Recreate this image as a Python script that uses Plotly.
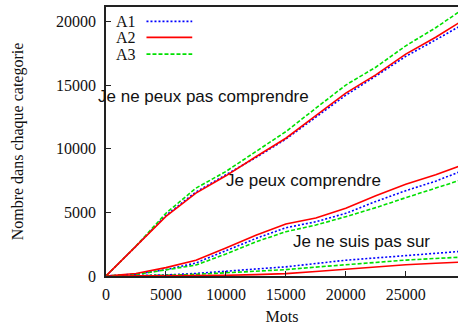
import plotly.graph_objects as go

# Word counts (x) at which the cumulative counts were read
mots = [0, 2500, 5000, 7500, 10000, 12500, 15000, 17500, 20000, 22500, 25000, 27500, 29400]

# "Je ne peux pas comprendre"
npc_A1 = [0, 2330, 4760, 6600, 7950, 9300, 10750, 12450, 14200, 15700, 17250, 18550, 19560]
npc_A2 = [0, 2320, 4680, 6510, 7870, 9370, 10820, 12590, 14360, 15800, 17430, 18750, 19870]
npc_A3 = [0, 2350, 4930, 6900, 8210, 9760, 11340, 13180, 15000, 16400, 18080, 19500, 20720]

# "Je peux comprendre"
pc_A1 = [0, 150, 500, 1020, 1990, 2950, 3790, 4260, 4920, 5850, 6700, 7450, 8150]
pc_A2 = [0, 200, 660, 1240, 2200, 3200, 4080, 4550, 5320, 6300, 7200, 7950, 8600]
pc_A3 = [0, 130, 480, 860, 1730, 2680, 3480, 4000, 4660, 5370, 6150, 6900, 7480]

# "Je ne suis pas sur"
ns_A1 = [0, 30, 80, 200, 395, 550, 720, 1000, 1240, 1420, 1620, 1800, 1920]
ns_A2 = [0, 10, 20, 30, 55, 110, 190, 350, 530, 720, 880, 1000, 1080]
ns_A3 = [0, 20, 60, 130, 240, 380, 500, 700, 900, 1080, 1250, 1380, 1470]

series_names = ["A1", "A2", "A3"]
x_ticks = [0, 5000, 10000, 15000, 20000, 25000]
y_ticks = [0, 5000, 10000, 15000, 20000]
labels = ["Je ne peux pas comprendre", "Je peux comprendre", "Je ne suis pas sur"]
label_x = [8150, 16440, 21300]
label_y = [14090, 7520, 2700]

styles = {
    "A1": dict(color="#0000ff", width=1.6, dash="2px,2px"),
    "A2": dict(color="#ff0000", width=1.6, dash="solid"),
    "A3": dict(color="#00e000", width=1.6, dash="4px,2px"),
}

fig = go.Figure()
groups = [
    {"A1": npc_A1, "A2": npc_A2, "A3": npc_A3},
    {"A1": pc_A1, "A2": pc_A2, "A3": pc_A3},
    {"A1": ns_A1, "A2": ns_A2, "A3": ns_A3},
]
for g in groups:
    for name in ["A1", "A3", "A2"]:
        fig.add_trace(go.Scatter(x=mots, y=g[name], mode="lines", name=name,
                                 line=styles[name], showlegend=False,
                                 hoverinfo="skip"))

serif = "Liberation Serif, Times New Roman, serif"
sans = "Liberation Sans, Arial, sans-serif"

for t, x, y in zip(labels, label_x, label_y):
    fig.add_annotation(x=x, y=y, text=t, showarrow=False,
                       font=dict(family=sans, size=17, color="#111"),
                       xanchor="center", yanchor="middle")

# manual gnuplot-style key: text then sample
key_y = [0.9465, 0.887, 0.825]
for name, ky in zip(series_names, key_y):
    fig.add_annotation(xref="paper", yref="paper", x=0.022, y=ky, text=name,
                       showarrow=False, xanchor="left", yanchor="middle",
                       font=dict(family=serif, size=16, color="#111"))
    fig.add_shape(type="line", xref="paper", yref="paper",
                  x0=0.115, x1=0.245, y0=ky, y1=ky,
                  line=styles[name])

axis_common = dict(showline=True, linecolor="#222", linewidth=1.5,
                   ticks="inside", ticklen=5, tickcolor="#222", tickwidth=1,
                   showgrid=False, zeroline=False,
                   tickfont=dict(family=serif, size=16, color="#111"))

fig.update_xaxes(range=[0, 29360], tickvals=x_ticks,
                 ticktext=[str(v) for v in x_ticks], mirror=True,
                 ticklabelstandoff=3,
                 title=dict(text="Mots", font=dict(family=serif, size=16, color="#111"),
                            standoff=10),
                 **axis_common)
fig.update_yaxes(range=[0, 21130], tickvals=y_ticks,
                 ticktext=[str(v) for v in y_ticks], mirror=False,
                 ticklabelstandoff=5,
                 title=dict(text="Nombre dans chaque categorie",
                            font=dict(family=serif, size=16, color="#111"),
                            standoff=28),
                 **axis_common)

fig.update_layout(width=458, height=325,
                  margin=dict(l=106, r=0, t=7, b=49),
                  paper_bgcolor="white", plot_bgcolor="white",
                  showlegend=False)

fig.write_html("out.html", config={"displayModeBar": False})
